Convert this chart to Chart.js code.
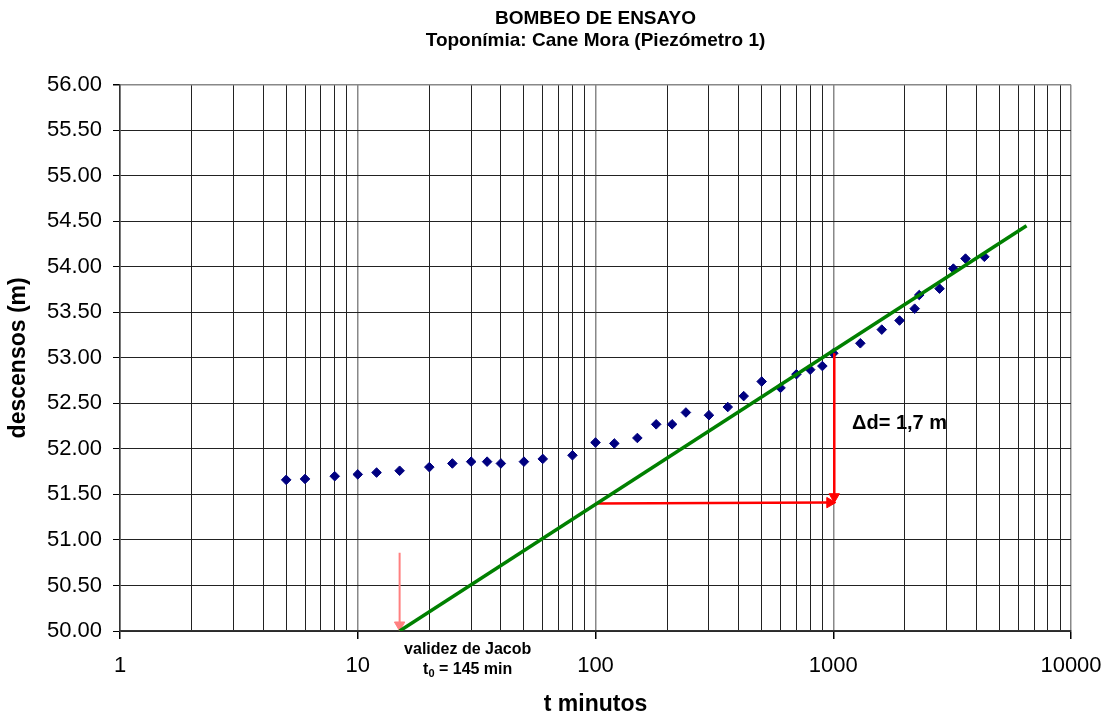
<!DOCTYPE html>
<html>
<head>
<meta charset="utf-8">
<script src="https://cdn.jsdelivr.net/npm/chart.js@4/dist/chart.umd.min.js"></script>
<style>
html, body { margin: 0; padding: 0; background: #fff; }
#wrap { width: 1108px; height: 716px; }
</style>
</head>
<body>
<div id="wrap"><canvas id="graphiqueBombeo"></canvas></div>
<script>
// datos del bombeo (t en minutos, descensos en m)
var tiempos = [5, 6, 8, 10, 12, 15, 20, 25, 30, 35, 40, 50, 60, 80, 100, 120, 150, 180, 210, 240,
    300, 360, 420, 500, 600, 700, 800, 900, 1000, 1300, 1600, 1900, 2200, 2300, 2800, 3200, 3600, 4320];
var descensos = [51.66, 51.67, 51.70, 51.72, 51.74, 51.76, 51.80, 51.84, 51.86, 51.86, 51.84, 51.86, 51.89, 51.93, 52.07, 52.06, 52.12, 52.27, 52.27, 52.40,
    52.37, 52.46, 52.58, 52.74, 52.67, 52.82, 52.87, 52.91, 53.05, 53.16, 53.31, 53.41, 53.54, 53.69, 53.76, 53.98, 54.09, 54.11];

// recta de Jacob
var rectaT = [15, 6500];
var rectaD = [50, 54.45];

// flechas
var flechaHorizT = [100, 967];
var flechaHorizD = [51.40, 51.41];
var flechaVertT = [1010, 1010];
var flechaVertD = [53.05, 51.475];
var flechaJacobT = [15, 15];
var flechaJacobD = [50.86, 50.066];

var decadasX = [1, 10, 100, 1000, 10000];
var ticksY = [50, 50.5, 51, 51.5, 52, 52.5, 53, 53.5, 54, 54.5, 55, 55.5, 56];

var fuente = "'Liberation Sans', Arial, sans-serif";

function puntos(xs, ys) {
    var out = [];
    for (var i = 0; i < xs.length; i++) out.push({x: xs[i], y: ys[i]});
    return out;
}

var textosPlugin = {
    id: 'textos',
    afterDatasetsDraw: function(chart) {
        var ctx = chart.ctx;
        var sx = chart.scales.x, sy = chart.scales.y;
        ctx.save();
        ctx.fillStyle = '#000';
        ctx.textBaseline = 'middle';
        ctx.textAlign = 'center';
        ctx.font = 'bold 16px ' + fuente;
        var cx = sx.getPixelForValue(29);
        ctx.fillText('validez de Jacob', cx, sy.getPixelForValue(49.8));
        // t0 = 145 min con subíndice
        var y2 = sy.getPixelForValue(49.58);
        var a = 't', b = '0', c = ' = 145 min';
        var wa = ctx.measureText(a).width, wc = ctx.measureText(c).width;
        ctx.font = 'bold 11px ' + fuente;
        var wb = ctx.measureText(b).width;
        var x0 = cx - (wa + wb + wc) / 2;
        ctx.textAlign = 'left';
        ctx.font = 'bold 16px ' + fuente;
        ctx.fillText(a, x0, y2);
        ctx.font = 'bold 11px ' + fuente;
        ctx.fillText(b, x0 + wa, y2 + 5);
        ctx.font = 'bold 16px ' + fuente;
        ctx.fillText(c, x0 + wa + wb, y2);
        ctx.font = 'bold 20px ' + fuente;
        ctx.fillText('\u0394d= 1,7 m', sx.getPixelForValue(1200), sy.getPixelForValue(52.28));
        ctx.restore();
    }
};

var canvas = document.getElementById('graphiqueBombeo');
var ctxBombeo = canvas.getContext('2d');
var graphiqueBombeo = new Chart(ctxBombeo, {
    type: 'scatter',
    data: {
        datasets: [{
            label: 'recta',
            data: puntos(rectaT, rectaD),
            showLine: true,
            borderColor: '#008000',
            borderWidth: 3.5,
            pointRadius: 0
        }, {
            label: 'flecha horizontal',
            data: puntos(flechaHorizT, flechaHorizD),
            showLine: true,
            borderColor: '#FF0000',
            backgroundColor: '#FF0000',
            borderWidth: 2.5,
            pointStyle: 'triangle',
            pointRadius: [0, 6],
            pointBorderWidth: 1,
            pointRotation: [0, 90]
        }, {
            label: 'flecha vertical',
            data: puntos(flechaVertT, flechaVertD),
            showLine: true,
            borderColor: '#FF0000',
            backgroundColor: '#FF0000',
            borderWidth: 2.5,
            pointStyle: 'triangle',
            pointRadius: [0, 6],
            pointBorderWidth: 1,
            pointRotation: [0, 180]
        }, {
            label: 'flecha Jacob',
            data: puntos(flechaJacobT, flechaJacobD),
            showLine: true,
            borderColor: '#FF8080',
            backgroundColor: '#FF8080',
            borderWidth: 2,
            pointStyle: 'triangle',
            pointRadius: [0, 6],
            pointBorderWidth: 1,
            pointRotation: [0, 180]
        }, {
            label: 'descensos',
            data: puntos(tiempos, descensos),
            pointStyle: 'rectRot',
            pointRadius: 4.8,
            pointBorderWidth: 1,
            backgroundColor: '#000080',
            borderColor: '#000080'
        }]
    },
    options: {
        responsive: true,
        maintainAspectRatio: false,
        animation: false,
        devicePixelRatio: 1,
        layout: { padding: { left: 0, right: 37, top: 0, bottom: 0 } },
        plugins: {
            legend: { display: false },
            tooltip: { enabled: false },
            title: {
                display: true,
                fullSize: false,
                text: ['BOMBEO DE ENSAYO', 'Topon\u00edmia: Cane Mora (Piez\u00f3metro 1)'],
                color: '#000',
                font: { family: fuente, size: 19, weight: 'bold', lineHeight: 1.15 },
                padding: { top: 8, bottom: 33 }
            }
        },
        scales: {
            x: {
                type: 'logarithmic',
                min: 1,
                max: 10000,
                afterBuildTicks: function(axis) {
                    var t = [];
                    for (var i = 0; i < decadasX.length - 1; i++) {
                        for (var m = 1; m < 10; m++) t.push({value: m * decadasX[i]});
                    }
                    t.push({value: decadasX[decadasX.length - 1]});
                    axis.ticks = t;
                },
                afterFit: function(scale) {
                    scale.height = 85;
                    scale.paddingLeft = 0;
                    scale.paddingRight = 0;
                },
                ticks: {
                    autoSkip: false,
                    maxRotation: 0,
                    color: '#000',
                    padding: 14,
                    font: { family: fuente, size: 22 },
                    callback: function(value) {
                        return decadasX.indexOf(value) >= 0 ? String(value) : '';
                    }
                },
                grid: {
                    tickLength: 8,
                    color: function(c) {
                        return c.tick && decadasX.indexOf(c.tick.value) >= 0 ? '#888' : '#222';
                    },
                    lineWidth: function(c) {
                        return c.tick && decadasX.indexOf(c.tick.value) >= 0 ? 1.5 : 1;
                    },
                    tickColor: function(c) {
                        return c.tick && decadasX.indexOf(c.tick.value) >= 0 ? '#000' : 'rgba(0,0,0,0)';
                    }
                },
                border: { color: '#333', width: 1.5 },
                title: {
                    display: true,
                    text: 't minutos',
                    color: '#000',
                    font: { family: fuente, size: 23, weight: 'bold', lineHeight: 1 },
                    padding: { top: 0, bottom: 0 }
                }
            },
            y: {
                min: 50,
                max: 56,
                afterBuildTicks: function(axis) {
                    axis.ticks = ticksY.map(function(v) { return {value: v}; });
                },
                afterFit: function(scale) {
                    scale.width = 120;
                    scale.paddingTop = 0;
                    scale.paddingBottom = 0;
                },
                ticks: {
                    color: '#000',
                    padding: 11,
                    font: { family: fuente, size: 22 },
                    callback: function(value) { return Number(value).toFixed(2); }
                },
                grid: {
                    tickLength: 7,
                    color: function(c) { return c.tick && c.tick.value === 56 ? '#888' : '#222'; },
                    lineWidth: function(c) { return c.tick && c.tick.value === 56 ? 1.5 : 1; },
                    tickColor: '#000'
                },
                border: { color: '#333', width: 1.5 },
                title: {
                    display: true,
                    text: 'descensos (m)',
                    color: '#000',
                    font: { family: fuente, size: 23, weight: 'bold', lineHeight: 1.2 },
                    padding: { top: 5, bottom: 0 }
                }
            }
        }
    },
    plugins: [textosPlugin]
});
</script>
</body>
</html>
